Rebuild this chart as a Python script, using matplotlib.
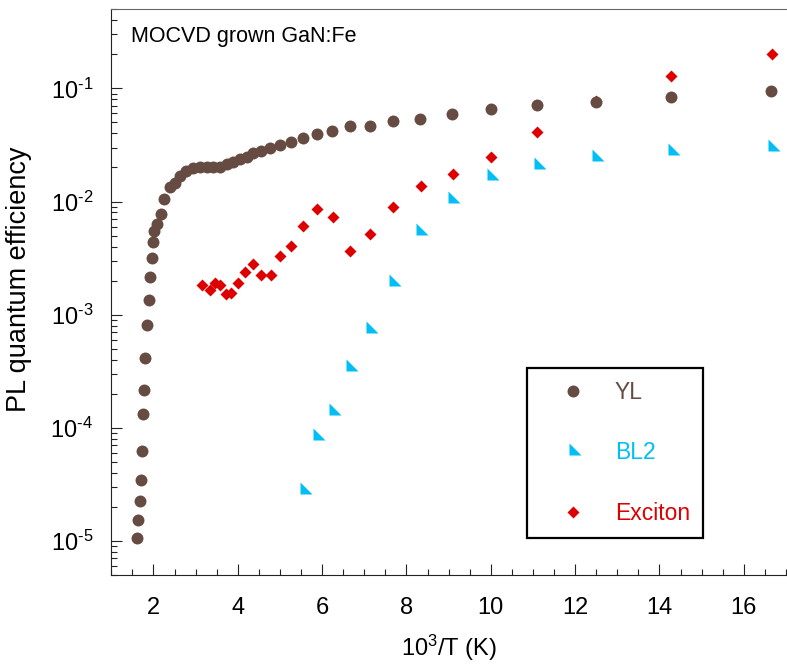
import math
import matplotlib
matplotlib.use("Agg")
import matplotlib.pyplot as plt
from matplotlib.ticker import LogLocator, MultipleLocator, NullFormatter, FuncFormatter

plt.rcParams['font.family'] = ['Liberation Sans', 'DejaVu Sans']
plt.rcParams['mathtext.fontset'] = 'custom'
plt.rcParams['mathtext.rm'] = 'Liberation Sans'
plt.rcParams['mathtext.it'] = 'Liberation Sans:italic'

# PL quantum efficiency vs inverse temperature (10^3/T, 1/K)
yl_x = [1.61, 1.63, 1.67, 1.70, 1.73, 1.76, 1.77, 1.81, 1.85, 1.89,
        1.92, 1.96, 1.99, 2.02, 2.09, 2.17, 2.26, 2.40, 2.50, 2.63,
        2.77, 2.93, 3.10, 3.28, 3.42, 3.58, 3.74, 3.89, 4.05, 4.21,
        4.36, 4.56, 4.76, 4.99, 5.27, 5.55, 5.88, 6.24, 6.65, 7.14,
        7.69, 8.33, 9.09, 10.0, 11.1, 12.5, 14.28, 16.65]
yl_y = [1.07e-5, 1.52e-5, 2.25e-5, 3.49e-5, 6.2e-5, 1.33e-4, 2.14e-4, 4.14e-4, 8.15e-4, 1.35e-3,
        2.17e-3, 3.2e-3, 4.38e-3, 5.5e-3, 6.3e-3, 7.78e-3, 1.06e-2, 1.34e-2, 1.47e-2, 1.68e-2,
        1.86e-2, 1.99e-2, 2.03e-2, 2.0e-2, 2.0e-2, 2.03e-2, 2.13e-2, 2.25e-2, 2.36e-2, 2.49e-2,
        2.67e-2, 2.81e-2, 2.99e-2, 3.16e-2, 3.38e-2, 3.67e-2, 3.95e-2, 4.23e-2, 4.65e-2, 4.65e-2,
        5.18e-2, 5.36e-2, 5.9e-2, 6.53e-2, 7.12e-2, 7.62e-2, 8.43e-2, 9.53e-2]

bl2_x = [5.56, 5.88, 6.25, 6.67, 7.14, 7.69, 8.33, 9.09, 10.0, 11.11, 12.5, 14.29, 16.67]
bl2_y = [2.83e-5, 8.47e-5, 1.42e-4, 3.47e-4, 7.48e-4, 1.94e-3, 5.47e-3, 1.06e-2,
         1.69e-2, 2.12e-2, 2.50e-2, 2.81e-2, 3.05e-2]

exc_x = [3.14, 3.34, 3.46, 3.58, 3.72, 3.85, 4.01, 4.18, 4.35, 4.55, 4.78, 5.01, 5.27,
         5.55, 5.89, 6.25, 6.67, 7.14, 7.69, 8.34, 9.10, 10.0, 11.1, 12.5, 14.28, 16.67]
exc_y = [1.84e-3, 1.64e-3, 1.90e-3, 1.84e-3, 1.53e-3, 1.55e-3, 1.92e-3, 2.36e-3, 2.81e-3,
         2.25e-3, 2.25e-3, 3.27e-3, 4.08e-3, 6.1e-3, 8.55e-3, 7.26e-3, 3.69e-3, 5.18e-3,
         8.91e-3, 1.38e-2, 1.76e-2, 2.49e-2, 4.14e-2, 7.7e-2, 0.128, 0.2]

labels = ["YL", "BL2", "Exciton"]
colors = ["#664b42", "#00bff5", "#dd0000"]

# right triangle marker, anchored at its centroid
tri = [(-2/3, 4/3), (-2/3, -2/3), (4/3, -2/3)]

fig = plt.figure(figsize=(7.87, 6.64), dpi=100)
ax = fig.add_axes([0.1414, 0.134, 0.8573, 0.852])

h_exc, = ax.plot(exc_x, exc_y, linestyle='none', marker='D', ms=6.0,
                 color=colors[2], mec='none', label=labels[2])
h_bl2, = ax.plot(bl2_x, bl2_y, linestyle='none', marker=tri, ms=11.8,
                 color=colors[1], mec='none', label=labels[1])
h_yl, = ax.plot(yl_x, yl_y, linestyle='none', marker='o', ms=8.6,
                color=colors[0], mec='none', label=labels[0])

ax.set_yscale('log')
ax.set_xlim(1, 17)
ax.set_ylim(5e-6, 0.5)


def decade_label(v, pos):
    e = int(round(math.log10(v)))
    sign = r'\text{-}' if e < 0 else ''
    return r'$\mathdefault{10^{%s%d}}$' % (sign, abs(e))


ax.xaxis.set_major_locator(MultipleLocator(2))
ax.xaxis.set_minor_locator(MultipleLocator(0.5))
ax.yaxis.set_major_locator(LogLocator(base=10, numticks=20))
ax.yaxis.set_major_formatter(FuncFormatter(decade_label))
ax.yaxis.set_minor_locator(LogLocator(base=10, subs=range(2, 10), numticks=20))
ax.yaxis.set_minor_formatter(NullFormatter())

ax.tick_params(which='both', direction='in', top=False, right=False, width=0.8, colors='#222222')
ax.tick_params(which='major', length=8)
ax.tick_params(which='minor', length=4.5)
ax.tick_params(axis='x', which='major', labelsize=17, pad=16, labelcolor='black')
ax.tick_params(axis='y', which='major', labelsize=17, pad=13, labelcolor='black')

ax.spines['right'].set_visible(False)
ax.spines['top'].set_color('#666666')
ax.spines['left'].set_color('#222222')
ax.spines['bottom'].set_color('#222222')

ax.set_xlabel(r'10$^{3}$/T (K)', fontsize=17, labelpad=10)
ax.set_ylabel('PL quantum efficiency', fontsize=19.5)
ax.yaxis.set_label_coords(-0.1175, 0.523)

ax.text(0.0288, 0.9417, 'MOCVD grown GaN:Fe', transform=ax.transAxes,
        fontsize=15.5, ha='left', va='baseline')

leg = ax.legend(handles=[h_yl, h_bl2, h_exc], loc='upper left',
                bbox_to_anchor=(0.616, 0.366), fontsize=16.5,
                frameon=True, fancybox=False, framealpha=1,
                edgecolor='black', borderpad=0.55, labelspacing=1.65,
                handlelength=2.96, handletextpad=0.33, numpoints=1,
                borderaxespad=0, labelcolor='linecolor')
leg.get_frame().set_linewidth(1.6)

fig.savefig('out.png', dpi=100)
